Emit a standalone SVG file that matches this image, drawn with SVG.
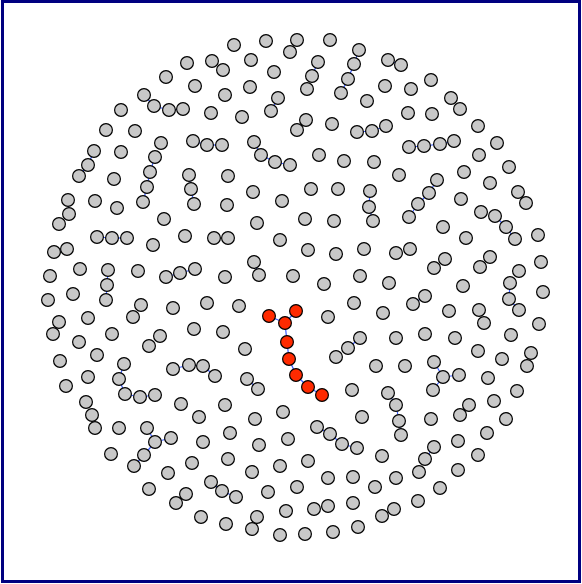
<svg xmlns="http://www.w3.org/2000/svg" width="582" height="584" viewBox="0 0 582 584">
<style>
.n{fill:#c8c8c8;stroke:#000;stroke-width:1.2}
.r{fill:#ff2a00;stroke:#000;stroke-width:1.2}
.e line{stroke:#3a5cff;stroke-width:1.2}
</style>
<rect x="2.5" y="1.5" width="577" height="580" fill="#fff" stroke="#000080" stroke-width="3"/>
<g id="connectors" class="e">
<line x1="269" y1="316" x2="285" y2="323"/><line x1="296" y1="311" x2="285" y2="323"/><line x1="285" y1="323" x2="287" y2="342"/><line x1="287" y1="342" x2="289" y2="359"/><line x1="289" y1="359" x2="296" y2="375"/><line x1="296" y1="375" x2="308" y2="387"/><line x1="308" y1="387" x2="322" y2="395"/>
<line x1="144" y1="95" x2="154" y2="106"/><line x1="154" y1="106" x2="169" y2="110"/><line x1="169" y1="110" x2="183" y2="109"/>
<line x1="359" y1="50" x2="354" y2="64"/><line x1="354" y1="64" x2="348" y2="79"/><line x1="348" y1="79" x2="341" y2="93"/>
<line x1="318" y1="62" x2="312" y2="76"/><line x1="278" y1="98" x2="271" y2="111"/><line x1="306" y1="120" x2="297" y2="130"/>
<line x1="357" y1="132" x2="372" y2="131"/><line x1="372" y1="131" x2="386" y2="126"/>
<line x1="193" y1="141" x2="207" y2="145"/><line x1="207" y1="145" x2="222" y2="145"/>
<line x1="254" y1="142" x2="261" y2="155"/><line x1="261" y1="155" x2="275" y2="162"/><line x1="275" y1="162" x2="290" y2="165"/>
<line x1="388" y1="60" x2="401" y2="65"/>
<line x1="409" y1="147" x2="424" y2="146"/><line x1="424" y1="146" x2="440" y2="144"/><line x1="440" y1="144" x2="454" y2="141"/>
<line x1="94" y1="151" x2="88" y2="165"/><line x1="88" y1="165" x2="79" y2="176"/>
<line x1="155" y1="157" x2="150" y2="172"/><line x1="150" y1="172" x2="147" y2="187"/><line x1="147" y1="187" x2="143" y2="202"/>
<line x1="189" y1="175" x2="191" y2="189"/><line x1="191" y1="189" x2="194" y2="204"/>
<line x1="68" y1="200" x2="69" y2="214"/>
<line x1="97" y1="237" x2="112" y2="238"/><line x1="112" y1="238" x2="127" y2="238"/>
<line x1="67" y1="249" x2="54" y2="252"/>
<line x1="108" y1="270" x2="107" y2="285"/><line x1="107" y1="285" x2="106" y2="300"/>
<line x1="166" y1="277" x2="180" y2="273"/><line x1="180" y1="273" x2="195" y2="269"/>
<line x1="437" y1="180" x2="429" y2="193"/><line x1="429" y1="193" x2="418" y2="204"/><line x1="418" y1="204" x2="409" y2="217"/>
<line x1="495" y1="216" x2="506" y2="227"/><line x1="506" y1="227" x2="515" y2="239"/>
<line x1="370" y1="191" x2="369" y2="207"/><line x1="369" y1="207" x2="373" y2="221"/>
<line x1="59" y1="322" x2="53" y2="334"/>
<line x1="124" y1="364" x2="119" y2="379"/><line x1="119" y1="379" x2="125" y2="394"/><line x1="125" y1="394" x2="140" y2="397"/><line x1="140" y1="397" x2="155" y2="395"/>
<line x1="173" y1="369" x2="189" y2="365"/><line x1="189" y1="365" x2="203" y2="366"/><line x1="203" y1="366" x2="215" y2="376"/>
<line x1="92" y1="415" x2="95" y2="428"/>
<line x1="254" y1="262" x2="259" y2="275"/>
<line x1="360" y1="338" x2="348" y2="348"/>
<line x1="247" y1="379" x2="258" y2="389"/>
<line x1="425" y1="296" x2="413" y2="304"/>
<line x1="510" y1="283" x2="509" y2="299"/><line x1="509" y1="299" x2="519" y2="310"/>
<line x1="434" y1="362" x2="443" y2="377"/><line x1="443" y1="377" x2="459" y2="375"/><line x1="443" y1="377" x2="433" y2="390"/>
<line x1="388" y1="393" x2="396" y2="405"/><line x1="396" y1="405" x2="399" y2="421"/><line x1="399" y1="421" x2="401" y2="435"/>
<line x1="147" y1="428" x2="155" y2="442"/><line x1="155" y1="442" x2="171" y2="438"/><line x1="155" y1="442" x2="144" y2="455"/><line x1="144" y1="455" x2="134" y2="466"/>
<line x1="317" y1="427" x2="330" y2="434"/><line x1="330" y1="434" x2="342" y2="444"/><line x1="342" y1="444" x2="357" y2="448"/>
<line x1="211" y1="482" x2="222" y2="491"/><line x1="222" y1="491" x2="236" y2="497"/>
<line x1="434" y1="447" x2="425" y2="459"/>
</g>
<g id="nodes" class="n">
<circle cx="187" cy="63" r="6.4"/><circle cx="166" cy="77" r="6.4"/><circle cx="195" cy="86" r="6.4"/><circle cx="144" cy="95" r="6.4"/><circle cx="154" cy="106" r="6.4"/><circle cx="169" cy="110" r="6.4"/><circle cx="183" cy="109" r="6.4"/><circle cx="121" cy="110" r="6.4"/><circle cx="106" cy="130" r="6.4"/><circle cx="135" cy="131" r="6.4"/><circle cx="161" cy="143" r="6.4"/><circle cx="193" cy="141" r="6.4"/><circle cx="94" cy="151" r="6.4"/><circle cx="121" cy="152" r="6.4"/>
<circle cx="234" cy="45" r="6.4"/><circle cx="266" cy="41" r="6.4"/><circle cx="297" cy="40" r="6.4"/><circle cx="330" cy="40" r="6.4"/><circle cx="290" cy="52" r="6.4"/><circle cx="359" cy="50" r="6.4"/><circle cx="251" cy="60" r="6.4"/><circle cx="212" cy="61" r="6.4"/><circle cx="223" cy="70" r="6.4"/><circle cx="274" cy="72" r="6.4"/><circle cx="318" cy="62" r="6.4"/><circle cx="312" cy="76" r="6.4"/><circle cx="354" cy="64" r="6.4"/><circle cx="348" cy="79" r="6.4"/><circle cx="341" cy="93" r="6.4"/><circle cx="307" cy="89" r="6.4"/><circle cx="225" cy="95" r="6.4"/><circle cx="250" cy="87" r="6.4"/><circle cx="278" cy="98" r="6.4"/><circle cx="271" cy="111" r="6.4"/><circle cx="367" cy="101" r="6.4"/><circle cx="211" cy="113" r="6.4"/><circle cx="242" cy="117" r="6.4"/><circle cx="306" cy="120" r="6.4"/><circle cx="297" cy="130" r="6.4"/><circle cx="332" cy="124" r="6.4"/><circle cx="357" cy="132" r="6.4"/><circle cx="372" cy="131" r="6.4"/><circle cx="207" cy="145" r="6.4"/><circle cx="222" cy="145" r="6.4"/><circle cx="254" cy="142" r="6.4"/>
<circle cx="388" cy="60" r="6.4"/><circle cx="401" cy="65" r="6.4"/><circle cx="385" cy="86" r="6.4"/><circle cx="411" cy="89" r="6.4"/><circle cx="431" cy="80" r="6.4"/><circle cx="451" cy="98" r="6.4"/><circle cx="460" cy="109" r="6.4"/><circle cx="408" cy="113" r="6.4"/><circle cx="432" cy="114" r="6.4"/><circle cx="386" cy="126" r="6.4"/><circle cx="478" cy="126" r="6.4"/><circle cx="409" cy="147" r="6.4"/><circle cx="424" cy="146" r="6.4"/><circle cx="440" cy="144" r="6.4"/><circle cx="454" cy="141" r="6.4"/><circle cx="497" cy="143" r="6.4"/>
<circle cx="88" cy="165" r="6.4"/><circle cx="79" cy="176" r="6.4"/><circle cx="155" cy="157" r="6.4"/><circle cx="150" cy="172" r="6.4"/><circle cx="147" cy="187" r="6.4"/><circle cx="143" cy="202" r="6.4"/><circle cx="114" cy="179" r="6.4"/><circle cx="68" cy="200" r="6.4"/><circle cx="95" cy="201" r="6.4"/><circle cx="117" cy="208" r="6.4"/><circle cx="69" cy="214" r="6.4"/><circle cx="59" cy="224" r="6.4"/><circle cx="164" cy="219" r="6.4"/><circle cx="97" cy="237" r="6.4"/><circle cx="112" cy="238" r="6.4"/><circle cx="127" cy="238" r="6.4"/><circle cx="153" cy="245" r="6.4"/><circle cx="185" cy="236" r="6.4"/><circle cx="67" cy="249" r="6.4"/><circle cx="54" cy="252" r="6.4"/><circle cx="50" cy="276" r="6.4"/><circle cx="80" cy="269" r="6.4"/><circle cx="108" cy="270" r="6.4"/><circle cx="138" cy="271" r="6.4"/><circle cx="166" cy="277" r="6.4"/><circle cx="180" cy="273" r="6.4"/><circle cx="195" cy="269" r="6.4"/><circle cx="107" cy="285" r="6.4"/><circle cx="189" cy="175" r="6.4"/><circle cx="191" cy="189" r="6.4"/><circle cx="194" cy="204" r="6.4"/>
<circle cx="261" cy="155" r="6.4"/><circle cx="275" cy="162" r="6.4"/><circle cx="290" cy="165" r="6.4"/><circle cx="319" cy="155" r="6.4"/><circle cx="344" cy="161" r="6.4"/><circle cx="374" cy="162" r="6.4"/><circle cx="228" cy="176" r="6.4"/><circle cx="253" cy="192" r="6.4"/><circle cx="282" cy="201" r="6.4"/><circle cx="311" cy="189" r="6.4"/><circle cx="338" cy="189" r="6.4"/><circle cx="370" cy="191" r="6.4"/><circle cx="369" cy="207" r="6.4"/><circle cx="373" cy="221" r="6.4"/><circle cx="227" cy="205" r="6.4"/><circle cx="257" cy="223" r="6.4"/><circle cx="305" cy="219" r="6.4"/><circle cx="334" cy="221" r="6.4"/><circle cx="214" cy="238" r="6.4"/><circle cx="228" cy="238" r="6.4"/><circle cx="280" cy="240" r="6.4"/><circle cx="308" cy="250" r="6.4"/><circle cx="336" cy="254" r="6.4"/><circle cx="364" cy="249" r="6.4"/><circle cx="254" cy="262" r="6.4"/><circle cx="259" cy="275" r="6.4"/><circle cx="225" cy="277" r="6.4"/><circle cx="293" cy="276" r="6.4"/><circle cx="324" cy="284" r="6.4"/><circle cx="360" cy="276" r="6.4"/><circle cx="389" cy="283" r="6.4"/>
<circle cx="479" cy="155" r="6.4"/><circle cx="509" cy="167" r="6.4"/><circle cx="399" cy="175" r="6.4"/><circle cx="464" cy="172" r="6.4"/><circle cx="490" cy="183" r="6.4"/><circle cx="437" cy="180" r="6.4"/><circle cx="429" cy="193" r="6.4"/><circle cx="418" cy="204" r="6.4"/><circle cx="409" cy="217" r="6.4"/><circle cx="461" cy="199" r="6.4"/><circle cx="518" cy="192" r="6.4"/><circle cx="526" cy="203" r="6.4"/><circle cx="481" cy="212" r="6.4"/><circle cx="495" cy="216" r="6.4"/><circle cx="506" cy="227" r="6.4"/><circle cx="515" cy="239" r="6.4"/><circle cx="538" cy="235" r="6.4"/><circle cx="443" cy="227" r="6.4"/><circle cx="466" cy="238" r="6.4"/><circle cx="396" cy="253" r="6.4"/><circle cx="410" cy="249" r="6.4"/><circle cx="445" cy="259" r="6.4"/><circle cx="434" cy="268" r="6.4"/><circle cx="490" cy="257" r="6.4"/><circle cx="480" cy="267" r="6.4"/><circle cx="541" cy="262" r="6.4"/><circle cx="519" cy="271" r="6.4"/><circle cx="510" cy="283" r="6.4"/><circle cx="463" cy="286" r="6.4"/><circle cx="543" cy="292" r="6.4"/>
<circle cx="48" cy="300" r="6.4"/><circle cx="73" cy="294" r="6.4"/><circle cx="106" cy="300" r="6.4"/><circle cx="141" cy="305" r="6.4"/><circle cx="173" cy="308" r="6.4"/><circle cx="133" cy="317" r="6.4"/><circle cx="59" cy="322" r="6.4"/><circle cx="53" cy="334" r="6.4"/><circle cx="88" cy="318" r="6.4"/><circle cx="112" cy="334" r="6.4"/><circle cx="160" cy="336" r="6.4"/><circle cx="149" cy="346" r="6.4"/><circle cx="194" cy="329" r="6.4"/><circle cx="79" cy="342" r="6.4"/><circle cx="97" cy="355" r="6.4"/><circle cx="60" cy="361" r="6.4"/><circle cx="124" cy="364" r="6.4"/><circle cx="119" cy="379" r="6.4"/><circle cx="88" cy="377" r="6.4"/><circle cx="66" cy="386" r="6.4"/><circle cx="125" cy="394" r="6.4"/><circle cx="140" cy="397" r="6.4"/><circle cx="155" cy="395" r="6.4"/><circle cx="173" cy="369" r="6.4"/><circle cx="189" cy="365" r="6.4"/><circle cx="203" cy="366" r="6.4"/><circle cx="181" cy="404" r="6.4"/><circle cx="199" cy="417" r="6.4"/><circle cx="86" cy="402" r="6.4"/><circle cx="92" cy="415" r="6.4"/><circle cx="95" cy="428" r="6.4"/><circle cx="119" cy="428" r="6.4"/><circle cx="147" cy="428" r="6.4"/>
<circle cx="207" cy="303" r="6.4"/><circle cx="239" cy="306" r="6.4"/><circle cx="354" cy="303" r="6.4"/><circle cx="328" cy="317" r="6.4"/><circle cx="383" cy="313" r="6.4"/><circle cx="223" cy="332" r="6.4"/><circle cx="245" cy="349" r="6.4"/><circle cx="360" cy="338" r="6.4"/><circle cx="348" cy="348" r="6.4"/><circle cx="336" cy="357" r="6.4"/><circle cx="215" cy="376" r="6.4"/><circle cx="247" cy="379" r="6.4"/><circle cx="258" cy="389" r="6.4"/><circle cx="376" cy="366" r="6.4"/><circle cx="352" cy="390" r="6.4"/><circle cx="388" cy="393" r="6.4"/><circle cx="225" cy="405" r="6.4"/><circle cx="283" cy="412" r="6.4"/><circle cx="255" cy="419" r="6.4"/><circle cx="362" cy="417" r="6.4"/><circle cx="230" cy="433" r="6.4"/><circle cx="317" cy="427" r="6.4"/><circle cx="330" cy="434" r="6.4"/>
<circle cx="425" cy="296" r="6.4"/><circle cx="413" cy="304" r="6.4"/><circle cx="509" cy="299" r="6.4"/><circle cx="519" cy="310" r="6.4"/><circle cx="449" cy="311" r="6.4"/><circle cx="479" cy="310" r="6.4"/><circle cx="484" cy="323" r="6.4"/><circle cx="539" cy="324" r="6.4"/><circle cx="396" cy="338" r="6.4"/><circle cx="425" cy="334" r="6.4"/><circle cx="455" cy="338" r="6.4"/><circle cx="511" cy="335" r="6.4"/><circle cx="478" cy="351" r="6.4"/><circle cx="531" cy="353" r="6.4"/><circle cx="502" cy="359" r="6.4"/><circle cx="527" cy="366" r="6.4"/><circle cx="405" cy="366" r="6.4"/><circle cx="434" cy="362" r="6.4"/><circle cx="443" cy="377" r="6.4"/><circle cx="459" cy="375" r="6.4"/><circle cx="433" cy="390" r="6.4"/><circle cx="488" cy="378" r="6.4"/><circle cx="517" cy="391" r="6.4"/><circle cx="396" cy="405" r="6.4"/><circle cx="399" cy="421" r="6.4"/><circle cx="431" cy="419" r="6.4"/><circle cx="469" cy="405" r="6.4"/><circle cx="460" cy="415" r="6.4"/><circle cx="494" cy="401" r="6.4"/><circle cx="506" cy="419" r="6.4"/>
<circle cx="155" cy="442" r="6.4"/><circle cx="171" cy="438" r="6.4"/><circle cx="111" cy="454" r="6.4"/><circle cx="144" cy="455" r="6.4"/><circle cx="134" cy="466" r="6.4"/><circle cx="168" cy="473" r="6.4"/><circle cx="192" cy="463" r="6.4"/><circle cx="149" cy="489" r="6.4"/><circle cx="186" cy="494" r="6.4"/><circle cx="176" cy="503" r="6.4"/><circle cx="201" cy="517" r="6.4"/>
<circle cx="203" cy="442" r="6.4"/><circle cx="259" cy="445" r="6.4"/><circle cx="288" cy="439" r="6.4"/><circle cx="342" cy="444" r="6.4"/><circle cx="357" cy="448" r="6.4"/><circle cx="382" cy="456" r="6.4"/><circle cx="228" cy="459" r="6.4"/><circle cx="252" cy="472" r="6.4"/><circle cx="280" cy="466" r="6.4"/><circle cx="308" cy="461" r="6.4"/><circle cx="328" cy="478" r="6.4"/><circle cx="353" cy="477" r="6.4"/><circle cx="375" cy="487" r="6.4"/><circle cx="211" cy="482" r="6.4"/><circle cx="222" cy="491" r="6.4"/><circle cx="236" cy="497" r="6.4"/><circle cx="268" cy="492" r="6.4"/><circle cx="297" cy="487" r="6.4"/><circle cx="226" cy="524" r="6.4"/><circle cx="257" cy="517" r="6.4"/><circle cx="252" cy="529" r="6.4"/><circle cx="286" cy="511" r="6.4"/><circle cx="314" cy="509" r="6.4"/><circle cx="328" cy="506" r="6.4"/><circle cx="353" cy="503" r="6.4"/><circle cx="382" cy="516" r="6.4"/><circle cx="280" cy="535" r="6.4"/><circle cx="305" cy="534" r="6.4"/><circle cx="333" cy="532" r="6.4"/><circle cx="358" cy="527" r="6.4"/>
<circle cx="401" cy="435" r="6.4"/><circle cx="487" cy="433" r="6.4"/><circle cx="458" cy="441" r="6.4"/><circle cx="434" cy="447" r="6.4"/><circle cx="425" cy="459" r="6.4"/><circle cx="478" cy="455" r="6.4"/><circle cx="419" cy="472" r="6.4"/><circle cx="458" cy="470" r="6.4"/><circle cx="396" cy="478" r="6.4"/><circle cx="440" cy="488" r="6.4"/><circle cx="418" cy="501" r="6.4"/><circle cx="394" cy="509" r="6.4"/>
</g>
<g id="path-nodes" class="r">
<circle cx="269" cy="316" r="6.4"/><circle cx="296" cy="311" r="6.4"/><circle cx="285" cy="323" r="6.4"/><circle cx="287" cy="342" r="6.4"/><circle cx="289" cy="359" r="6.4"/><circle cx="296" cy="375" r="6.4"/><circle cx="308" cy="387" r="6.4"/><circle cx="322" cy="395" r="6.4"/>
</g>
</svg>
